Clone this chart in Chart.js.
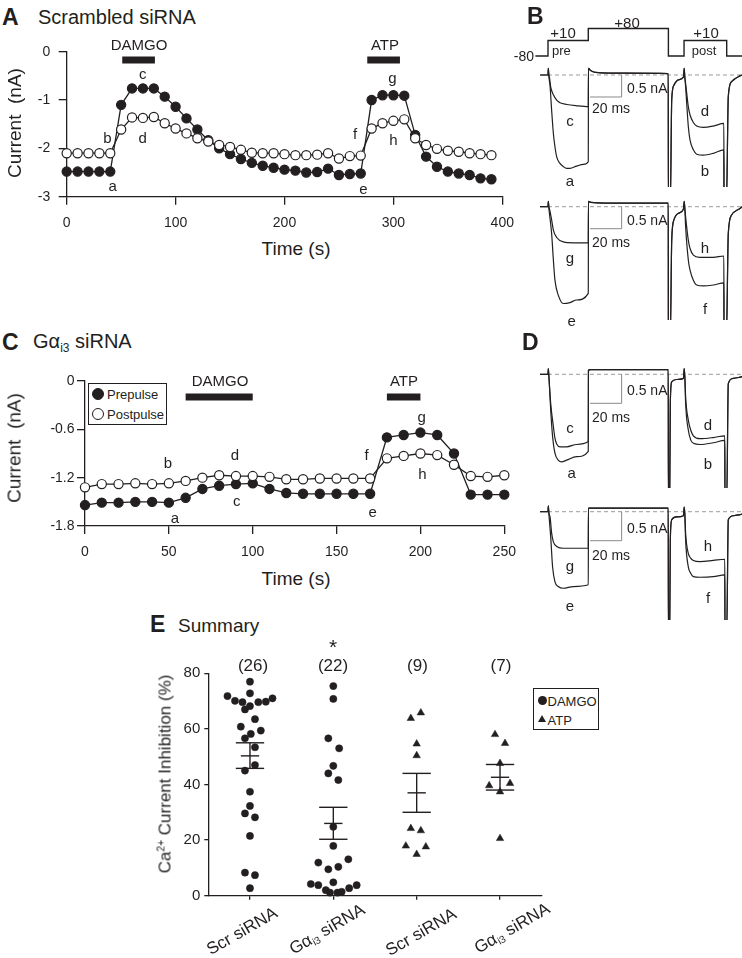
<!DOCTYPE html>
<html>
<head>
<meta charset="utf-8">
<title>Gαi3 siRNA – Ca2+ current inhibition</title>
<script src="https://cdn.jsdelivr.net/npm/chart.js@4.4.1/dist/chart.umd.min.js"></script>
<style>
  html, body { margin: 0; background: #fff; }
  #fig { position: relative; width: 742px; height: 958px; overflow: hidden; background: #fff;
         font-family: 'Liberation Sans', Arial, Helvetica, sans-serif; color: #231f20; }
  #fig canvas { position: absolute; }
  .lbl { position: absolute; white-space: pre; line-height: 1; }
  .lbl sub { font-size: 0.6em; vertical-align: -0.3em; line-height: 0; }
  .lbl sup { font-size: 0.6em; vertical-align: 0.55em; line-height: 0; }
  .box { position: absolute; border: 1.3px solid #231f20; background: #fff; box-sizing: border-box; }
  .dot { position: absolute; border-radius: 50%; box-sizing: border-box; border: 1.3px solid #231f20; }
  .tri { position: absolute; width: 0; height: 0; border-left: 4px solid transparent;
         border-right: 4px solid transparent; border-bottom: 7px solid #231f20; }
</style>
</head>
<body>
<div id="fig"></div>
<script>
// ─── Data: A  scrambled siRNA time course ───────────
const scrTime = [0,10,20,30,40,50,60,70,80,90,100,110,120,130,140,150,160,170,180,190,
                 200,210,220,230,240,250,260,270,280,290,300,310,320,330,340,350,360,370,380,390];
const scrPre  = [-2.48,-2.48,-2.48,-2.48,-2.48,-1.10,-0.76,-0.76,-0.76,-0.93,-1.14,-1.38,-1.61,-1.83,-2.00,-2.12,-2.22,-2.30,-2.36,-2.40,
                 -2.44,-2.46,-2.50,-2.49,-2.42,-2.55,-2.53,-2.52,-1.00,-0.90,-0.90,-0.91,-1.72,-2.17,-2.38,-2.48,-2.52,-2.55,-2.62,-2.64];
const scrPost = [-2.10,-2.10,-2.10,-2.10,-2.10,-1.61,-1.36,-1.37,-1.35,-1.48,-1.59,-1.69,-1.79,-1.86,-1.93,-1.97,-2.03,-2.09,-2.10,-2.10,
                 -2.12,-2.14,-2.14,-2.13,-2.10,-2.21,-2.16,-2.15,-1.59,-1.48,-1.43,-1.40,-1.79,-1.93,-2.01,-2.05,-2.07,-2.10,-2.12,-2.14];
const scrTicksX = [0, 100, 200, 300, 400];
const scrTicksY = [-3, -2, -1, 0];
const scrDamgoOn = [51, 81];
const scrAtpOn = [276, 306];

// ─── Data: C  Gαi3 siRNA time course ────────────────
const giTime = [0,10,20,30,40,50,60,70,80,90,100,110,120,130,140,150,160,170,180,190,200,210,220,230,240,250];
const giPre  = [-1.54,-1.51,-1.51,-1.50,-1.50,-1.51,-1.45,-1.34,-1.30,-1.28,-1.27,-1.34,-1.39,
                -1.40,-1.40,-1.40,-1.40,-1.40,-0.70,-0.67,-0.64,-0.67,-0.90,-1.41,-1.41,-1.41];
const giPost = [-1.32,-1.28,-1.28,-1.27,-1.28,-1.27,-1.24,-1.20,-1.17,-1.18,-1.18,-1.19,-1.22,
                -1.22,-1.21,-1.21,-1.21,-1.21,-0.96,-0.93,-0.90,-0.92,-1.04,-1.18,-1.19,-1.17];
const giTicksX = [0, 50, 100, 150, 200, 250];
const giTicksY = [-1.8, -1.2, -0.6, 0];
const giDamgoOn = [60, 100];
const giAtpOn = [180, 200];

// ─── Data: E  summary ───────────────────────────────
const summaryCats = ['Scr siRNA', 'Gα<sub>i3</sub> siRNA', 'Scr siRNA', 'Gα<sub>i3</sub> siRNA'];
const summaryN = [26, 22, 9, 7];
const summaryTicksY = [0, 20, 40, 60, 80];
const scrDamgoVal = [77.0,72.8,71.8,70.1,69.6,68.2,67.0,69.6,69.8,71.0,63.5,60.8,59.4,58.2,56.6,53.4,
                     47.0,45.0,37.4,32.3,29.6,28.2,21.5,8.3,7.4,2.7];
const scrDamgoJit = [0,0,-0.27,-0.18,-0.09,0,-0.06,0.10,0.19,0.27,0.06,-0.11,0.13,0.01,-0.06,0.06,
                     0.06,-0.06,0,0,-0.06,0.06,0,-0.06,0.06,0];
const giDamgoVal  = [75.4,70.8,56.6,53.0,46.7,44.0,41.6,24.8,17.9,11.9,9.5,10.4,13.1,
                     4.2,3.8,2.0,4.8,1.1,1.1,1.4,2.7,3.8];
const giDamgoJit  = [0,0,-0.06,0.07,0,-0.06,0.06,0,0,-0.18,-0.06,0.06,0.18,
                     -0.27,-0.18,-0.09,0,-0.04,0.05,0.10,0.19,0.28];
const scrAtpVal   = [63.8,65.8,54.6,50.4,24.2,23.4,17.9,14.9,17.6];
const scrAtpJit   = [-0.07,0.05,0,0,-0.07,0.05,-0.13,0,0.11];
const giAtpVal    = [58.0,54.8,47.6,39.6,40.4,37.4,20.6];
const giAtpJit    = [-0.06,0.06,0,-0.13,0.12,0,0];
const summaryMean  = [50.3, 26.0, 37.0, 42.6];
const summarySemHi = [55.0, 31.8, 44.0, 47.2];
const summarySemLo = [45.8, 20.3, 30.0, 38.0];

// ─── Data: B / D  voltage protocol and current traces (ms, nA) ──
const protocolT = [-8, 0, 0, 25.5, 25.5, 76.2, 76.2, 86.1, 86.1, 113.1, 113.1, 123];
const protocolV = [-80, -80, 10, 10, 80, 80, -80, -80, 10, 10, -80, -80];

const bTopCtrl = [[-5,0],[0,0],[0.2,0.15],[0.6,-0.05],[1.3,-0.25],[2.3,-0.8],[3.4,-1.33],[4.4,-1.63],[5.5,-1.86],
  [7.6,-2.01],[9.7,-2.08],[11.8,-2.12],[13.9,-2.12],[18.1,-2.07],[22.4,-2.03],[25.5,-1.97],[25.6,0.15],[27,0.1],
  [30,0.06],[50,0.04],[76.1,0.03],[76.2,-3],[77.4,-3],[78.3,-0.57],[79.7,-0.23],[82.5,-0.11],[85.7,-0.05],
  [86.2,0.15],[86.6,-0.05],[87.1,-0.27],[88.8,-1.17],[89.9,-1.48],[92,-1.70],[94.1,-1.80],[98.3,-1.82],
  [104.6,-1.78],[111.3,-1.70],[111.4,-3],[112.9,-3],[114.1,-0.49],[116.2,-0.15],[121.5,-0.02],[123,0]];
const bTopDamgo = [[-5,0],[0,0],[0.2,0.15],[0.6,-0.02],[0.84,-0.04],[1.7,-0.27],[3.4,-0.45],[5.5,-0.57],[7.6,-0.63],
  [11.8,-0.67],[18.1,-0.70],[25.5,-0.72],[25.6,0.15],[27,0.1],[30,0.06],[50,0.04],[76.1,0.03],[76.2,-3],[77.4,-3],
  [78.3,-0.57],[79.7,-0.23],[82.5,-0.11],[85.7,-0.05],[86.2,0.15],[86.6,-0.05],[87.1,-0.19],[88.8,-0.72],
  [89.9,-0.91],[92,-1.08],[94.1,-1.16],[98.3,-1.19],[104.6,-1.16],[111.3,-1.10],[111.4,-3],[112.9,-3],
  [114.1,-0.49],[116.2,-0.15],[121.5,-0.02],[123,0]];
const bBotCtrl = [[-5,0],[0,0],[0.2,0.12],[0.6,-0.05],[2.3,-0.61],[3.4,-1.21],[4.4,-1.67],[6.5,-2.01],[9.7,-2.2],
  [13.9,-2.18],[18.1,-2.12],[25.5,-1.97],[25.6,0.12],[27,0.1],[50,0.08],[76.1,0.08],[76.2,-3],[77.4,-3],
  [78.3,-0.76],[79.7,-0.30],[82.5,-0.15],[85.7,-0.06],[86.2,0.12],[86.6,-0.05],[87.1,-0.45],[88.8,-1.21],
  [89.9,-1.44],[92,-1.67],[94.1,-1.78],[98.3,-1.80],[104.6,-1.78],[111.3,-1.73],[111.4,-3],[112.9,-3],
  [114.1,-0.61],[116.2,-0.19],[121.5,-0.04],[123,0]];
const bBotAtp = [[-5,0],[0,0],[0.2,0.12],[0.6,-0.02],[0.84,-0.04],[2.3,-0.30],[3.4,-0.53],[5.5,-0.70],[9.7,-0.80],
  [16,-0.82],[25.5,-0.82],[25.6,0.12],[27,0.1],[50,0.08],[76.1,0.08],[76.2,-3],[77.4,-3],[78.3,-0.76],
  [79.7,-0.30],[82.5,-0.15],[85.7,-0.06],[86.2,0.12],[86.6,-0.03],[87.1,-0.23],[88.8,-0.76],[89.9,-0.95],
  [92,-1.10],[96,-1.15],[104.6,-1.15],[111.3,-1.12],[111.4,-3],[112.9,-3],[114.1,-0.61],[116.2,-0.19],
  [121.5,-0.04],[123,0]];
const dTopCtrl = [[-5,0],[0,0],[0.2,0.1],[0.6,-0.05],[1.7,-0.61],[2.9,-1.07],[4.4,-1.36],[6.5,-1.48],[8.6,-1.51],
  [11.8,-1.48],[18.1,-1.42],[25.5,-1.33],[25.6,0.07],[27,0.08],[76.1,0.08],[76.2,-2.2],[77,-2.2],[77.4,-0.5],
  [78.3,-0.13],[81.4,-0.09],[85.7,-0.07],[86.2,0.1],[86.6,-0.05],[87.1,-0.5],[88.8,-0.96],[90.3,-1.13],
  [92,-1.19],[96.2,-1.21],[104.6,-1.18],[111.9,-1.14],[112,-2.2],[113.1,-2.2],[114.1,-0.16],[117.3,-0.07],
  [121.5,-0.05],[123,-0.04]];
const dTopDamgo = [[-5,0],[0,0],[0.2,0.1],[0.6,-0.05],[1.7,-0.50],[3.4,-0.90],[4.4,-1.10],[5.5,-1.20],[7.6,-1.25],
  [11.8,-1.25],[18.1,-1.21],[25.5,-1.16],[25.6,0.07],[27,0.08],[76.1,0.08],[76.2,-2.2],[77,-2.2],[77.4,-0.5],
  [78.3,-0.13],[81.4,-0.09],[85.7,-0.07],[86.2,0.1],[86.6,-0.03],[87.1,-0.39],[88.8,-0.79],[90.3,-0.96],
  [92,-1.06],[96.2,-1.11],[104.6,-1.09],[111.9,-1.06],[112,-2.2],[113.1,-2.2],[114.1,-0.16],[117.3,-0.07],
  [121.5,-0.05],[123,-0.04]];
const dBotCtrl = [[-5,0],[0,0],[0.2,0.1],[0.6,-0.05],[1.7,-0.43],[2.9,-0.95],[4.4,-1.21],[6.5,-1.29],[9.7,-1.32],
  [16,-1.29],[25.5,-1.26],[25.6,0.06],[27,0.06],[76.1,0.06],[76.2,-2.1],[77,-2.1],[77.4,-0.5],[78.3,-0.14],
  [81.4,-0.09],[85.7,-0.07],[86.2,0.08],[86.6,-0.05],[87.1,-0.49],[88.8,-0.95],[90.3,-1.06],[92,-1.12],
  [96.2,-1.13],[104.6,-1.12],[111.9,-1.09],[112,-2.1],[113.1,-2.1],[114.1,-0.14],[117.3,-0.07],[121.5,-0.05],[123,-0.04]];
const dBotAtp = [[-5,0],[0,0],[0.2,0.1],[0.6,-0.03],[1.3,-0.09],[2.3,-0.37],[3.4,-0.52],[5.5,-0.60],[9.7,-0.63],
  [25.5,-0.63],[25.6,0.06],[27,0.06],[76.1,0.06],[76.2,-2.1],[77,-2.1],[77.4,-0.5],[78.3,-0.14],[81.4,-0.09],
  [85.7,-0.07],[86.2,0.08],[86.6,-0.03],[87.1,-0.37],[88.8,-0.72],[90.3,-0.80],[92,-0.84],[96.2,-0.86],
  [104.6,-0.84],[111.9,-0.82],[112,-2.1],[113.1,-2.1],[114.1,-0.14],[117.3,-0.07],[121.5,-0.05],[123,-0.04]];
const scaleBarT = [26.6, 46.6, 46.6];
const scaleBarI = [-0.5, -0.5, 0];

// ─── Helpers ────────────────────────────────────────
const FONT = "'Liberation Sans', Arial, Helvetica, sans-serif";
const INK = '#231f20';
const fig = document.getElementById('fig');

function makeCanvas(left, top, w, h) {
  const c = document.createElement('canvas');
  c.width = w; c.height = h;
  c.style.cssText = `left:${left}px;top:${top}px;width:${w}px;height:${h}px`;
  fig.appendChild(c);
  return c;
}

function txt(html, x, y, size, anchor, extra) {
  const d = document.createElement('div');
  d.className = 'lbl';
  const tx = anchor === 'l' ? '0' : anchor === 'r' ? '-100%' : '-50%';
  d.style.cssText = `left:${x}px;top:${y}px;font-size:${size}px;transform:translate(${tx},-50%) ${extra || ''};`;
  d.innerHTML = html;
  fig.appendChild(d);
  return d;
}

const pts = (xs, ys) => xs.map((x, i) => ({ x, y: ys[i] }));

function axisOpts(o) {
  return {
    x: {
      type: 'linear', min: o.xMin, max: o.xMax,
      afterBuildTicks: s => { s.ticks = o.xTicks.map(v => ({ value: v })); },
      afterFit: s => { s.height = o.xH; s.paddingLeft = 0; s.paddingRight = 0; },
      border: { display: true, color: INK, width: 1.3 },
      grid: { drawOnChartArea: false, drawTicks: true, tickLength: o.tick, color: INK, lineWidth: 1.3 },
      ticks: { display: o.xLabels !== false, color: INK, font: { family: FONT, size: o.fs },
               padding: o.xPad, maxRotation: 0, autoSkip: false, callback: v => String(v) }
    },
    y: {
      type: 'linear', min: o.yMin, max: o.yMax,
      afterBuildTicks: s => { s.ticks = o.yTicks.map(v => ({ value: v })); },
      afterFit: s => { s.width = o.yW; s.paddingTop = 0; s.paddingBottom = 0; },
      border: { display: true, color: INK, width: 1.3 },
      grid: { drawOnChartArea: false, drawTicks: true, tickLength: o.tick, color: INK, lineWidth: 1.3 },
      ticks: { color: INK, font: { family: FONT, size: o.fs }, padding: o.yPad, autoSkip: false,
               callback: v => String(v) }
    }
  };
}

const baseOpts = {
  responsive: false, animation: false, events: [],
  plugins: { legend: { display: false }, tooltip: { enabled: false } }
};

// ─── Time-course panels (A, C) ──────────────────────
function timeCourse(cv, o) {
  const series = (ys, fill) => ({
    data: pts(o.time, ys), showLine: true, clip: false,
    borderColor: INK, borderWidth: 1.3,
    pointRadius: 4.6, pointBorderWidth: 1.2, pointBorderColor: INK,
    pointBackgroundColor: fill ? INK : '#fff'
  });
  const bar = on => ({
    data: pts(on, [o.barY, o.barY]), showLine: true, clip: false,
    borderColor: INK, borderWidth: 7, borderCapStyle: 'butt', pointRadius: 0
  });
  new Chart(cv, {
    type: 'scatter',
    data: { datasets: [series(o.post, false), series(o.pre, true), bar(o.damgo), bar(o.atp)] },
    options: { ...baseOpts, layout: { padding: o.pad }, scales: axisOpts(o) }
  });
}

timeCourse(makeCanvas(0, 30, 520, 200), {
  time: scrTime, pre: scrPre, post: scrPost, damgo: scrDamgoOn, atp: scrAtpOn, barY: -0.17,
  xMin: 0, xMax: 400, xTicks: scrTicksX, yMin: -3, yMax: 0, yTicks: scrTicksY,
  xH: 33.3, yW: 66.7, tick: 8, fs: 14, xPad: 10, yPad: 8.5,
  pad: { left: 0, top: 21.7, right: 17.7, bottom: 0 }
});

timeCourse(makeCanvas(0, 360, 520, 200), {
  time: giTime, pre: giPre, post: giPost, damgo: giDamgoOn, atp: giAtpOn, barY: -0.2,
  xMin: 0, xMax: 250, xTicks: giTicksX, yMin: -1.8, yMax: 0, yTicks: giTicksY,
  xH: 34, yW: 85, tick: 8, fs: 14, xPad: 10, yPad: 2.5,
  pad: { left: 0, top: 21, right: 15.7, bottom: 0 }
});

// ─── Traces (B, D) ──────────────────────────────────
const T_MIN = -17.72, T_MAX = 122.78;

function traceChart(top, h, yMin, yMax, traces) {
  const ds = traces.map(tr => ({
    data: tr.map(p => ({ x: p[0], y: p[1] })), showLine: true,
    borderColor: INK, borderWidth: 1.2, pointRadius: 0, cubicInterpolationMode: 'monotone'
  }));
  ds.push({ data: pts(scaleBarT, scaleBarI), showLine: true, borderColor: '#8a8a8a', borderWidth: 1, pointRadius: 0 });
  ds.push({ data: pts([0, 123], [0, 0]), showLine: true, borderColor: '#9a9a9a', borderWidth: 1,
            borderDash: [4, 3], pointRadius: 0 });
  new Chart(makeCanvas(520, top, 222, h), {
    type: 'scatter', data: { datasets: ds },
    options: { ...baseOpts, layout: { padding: 0 },
      scales: { x: { display: false, min: T_MIN, max: T_MAX }, y: { display: false, min: yMin, max: yMax } } }
  });
}

new Chart(makeCanvas(520, 0, 222, 65), {
  type: 'scatter',
  data: { datasets: [{ data: pts(protocolT, protocolV), showLine: true, borderColor: INK, borderWidth: 1.4, pointRadius: 0 }] },
  options: { ...baseOpts, layout: { padding: 0 },
    scales: { x: { display: false, min: T_MIN, max: T_MAX }, y: { display: false, min: -132.4, max: 245.8 } } }
});

traceChart(62, 125, -2.545, 0.295, [bTopCtrl, bTopDamgo]);
traceChart(198, 122, -2.575, 0.198, [bBotCtrl, bBotAtp]);
traceChart(366, 122, -1.96, 0.143, [dTopCtrl, dTopDamgo]);
traceChart(503, 117, -1.867, 0.15, [dBotCtrl, dBotAtp]);

// ─── Summary (E) ────────────────────────────────────
const groupDs = (vals, jit, i, style, r) => ({
  data: vals.map((v, k) => ({ x: i + jit[k], y: v })), clip: false,
  pointStyle: style, pointRadius: r, pointBackgroundColor: INK, pointBorderColor: INK, pointBorderWidth: 0.5
});
const eDs = [
  groupDs(scrDamgoVal, scrDamgoJit, 0, 'circle', 3.6),
  groupDs(giDamgoVal, giDamgoJit, 1, 'circle', 3.6),
  groupDs(scrAtpVal, scrAtpJit, 2, 'triangle', 4.3),
  groupDs(giAtpVal, giAtpJit, 3, 'triangle', 4.3)
];
const CAP = 0.17, MEANW = 0.11;
summaryMean.forEach((m, i) => {
  const seg = (x0, x1, y0, y1) => eDs.push({ data: [{ x: x0, y: y0 }, { x: x1, y: y1 }], showLine: true,
    borderColor: INK, borderWidth: 1.4, pointRadius: 0, clip: false });
  seg(i - CAP, i + CAP, summarySemHi[i], summarySemHi[i]);
  seg(i - CAP, i + CAP, summarySemLo[i], summarySemLo[i]);
  seg(i - MEANW, i + MEANW, m, m);
  seg(i, i, summarySemLo[i], summarySemHi[i]);
});
new Chart(makeCanvas(150, 640, 470, 318), {
  type: 'scatter', data: { datasets: eDs },
  options: { ...baseOpts, layout: { padding: { left: 0, top: 33.3, right: 78.3, bottom: 0 } },
    scales: axisOpts({ xMin: -0.5, xMax: 3.5, xTicks: summaryCats.map((c, i) => i), xLabels: false,
      yMin: 0, yMax: 80, yTicks: summaryTicksY, xH: 62.3, yW: 58.3, tick: 4, fs: 15, xPad: 4, yPad: 4 }) }
});

// ─── Text ───────────────────────────────────────────
// panel A
txt('A', 2, 17, 23, 'l', '').style.fontWeight = 'bold';
txt('Scrambled siRNA', 38, 17, 20, 'l');
txt('DAMGO', 139, 43.5, 15, 'c');
txt('ATP', 385, 43.5, 15, 'c');
txt('Current  (nA)', 14, 123, 19, 'c', 'rotate(-90deg)');
txt('Time (s)', 296, 248, 19, 'c');
[['c',142.7,73.3],['b',107.3,136.7],['d',142.7,136.7],['a',112.7,185],
 ['g',392.3,76.7],['f',355,133.3],['h',393.3,139.3],['e',363.3,187.7]].forEach(l => txt(l[0], l[1], l[2], 15, 'c'));

// panel B
txt('B', 527, 16, 23, 'l').style.fontWeight = 'bold';
txt('-80', 534, 56, 14, 'r');
txt('+10', 563, 32, 15, 'c');
txt('+80', 627, 22, 15, 'c');
txt('+10', 706, 32, 15, 'c');
txt('pre', 552, 50, 13, 'l');
txt('post', 704, 50, 13, 'c');
[[88.3, 108], [220, 241.7]].forEach(p => { txt('0.5 nA', 627, p[0], 14, 'l'); txt('20 ms', 592, p[1], 14, 'l'); });
[['c',570,120],['a',570,180],['d',705,110],['b',705,170],
 ['g',570,256.7],['h',705,246.7],['f',705,308],['e',571.7,320]].forEach(l => txt(l[0], l[1], l[2], 15, 'c'));

// panel C
txt('C', 2, 342, 23, 'l').style.fontWeight = 'bold';
txt('Gα<sub>i3</sub> siRNA', 33, 341, 20, 'l');
txt('DAMGO', 220, 380, 15, 'c');
txt('ATP', 404, 380, 15, 'c');
txt('Current  (nA)', 14, 448, 19, 'c', 'rotate(-90deg)');
txt('Time (s)', 296, 578, 19, 'c');
[['b',168,461.7],['a',175,516.7],['d',235,454],['c',236.7,500],
 ['f',366.7,454],['e',372.7,510.7],['g',421.7,415.7],['h',422.3,473.3]].forEach(l => txt(l[0], l[1], l[2], 15, 'c'));

const legC = document.createElement('div');
legC.className = 'box';
legC.style.cssText = 'left:88px;top:383px;width:79px;height:42px;';
fig.appendChild(legC);
[[394.3, INK, 'Prepulse'], [414.3, '#fff', 'Postpulse']].forEach(e => {
  const d = document.createElement('div');
  d.className = 'dot';
  d.style.cssText = `left:92px;top:${e[0] - 6}px;width:12px;height:12px;background:${e[1]};`;
  fig.appendChild(d);
  txt(e[2], 107, e[0], 13, 'l');
});

// panel D
txt('D', 522, 342, 23, 'l').style.fontWeight = 'bold';
[[390, 416.7], [528.3, 555]].forEach(p => { txt('0.5 nA', 627, p[0], 14, 'l'); txt('20 ms', 592, p[1], 14, 'l'); });
[['c',570,426.7],['a',571.7,471.7],['d',708,424],['b',708,462.7],
 ['g',570,565],['e',570,605],['h',708,545],['f',708,596.7]].forEach(l => txt(l[0], l[1], l[2], 15, 'c'));

// panel E
txt('E', 150, 624, 23, 'l').style.fontWeight = 'bold';
txt('Summary', 178, 625, 19, 'l');
const countX = [253, 333, 417.5, 501];
summaryN.forEach((n, i) => txt('(' + n + ')', countX[i], 665, 17, 'c'));
txt('*', 333, 646, 21, 'c');
txt('Ca<sup>2+</sup> Current Inhibition (%)', 165, 774, 17, 'c', 'rotate(-90deg)');
const catPos = [[241.5, 931], [327, 929], [421, 932], [512, 928]];
summaryCats.forEach((c, i) => txt(c, catPos[i][0], catPos[i][1], 17, 'c', 'rotate(-30deg)'));

const legE = document.createElement('div');
legE.className = 'box';
legE.style.cssText = 'left:533px;top:688px;width:66px;height:42px;';
fig.appendChild(legE);
const ld = document.createElement('div');
ld.className = 'dot';
ld.style.cssText = `left:537.5px;top:696px;width:9px;height:9px;background:${INK};border:none;`;
fig.appendChild(ld);
txt('DAMGO', 547.5, 700.5, 13, 'l');
const lt = document.createElement('div');
lt.className = 'tri';
lt.style.cssText = 'left:537.5px;top:715px;';
fig.appendChild(lt);
txt('ATP', 547.5, 719.5, 13, 'l');
</script>
</body>
</html>
